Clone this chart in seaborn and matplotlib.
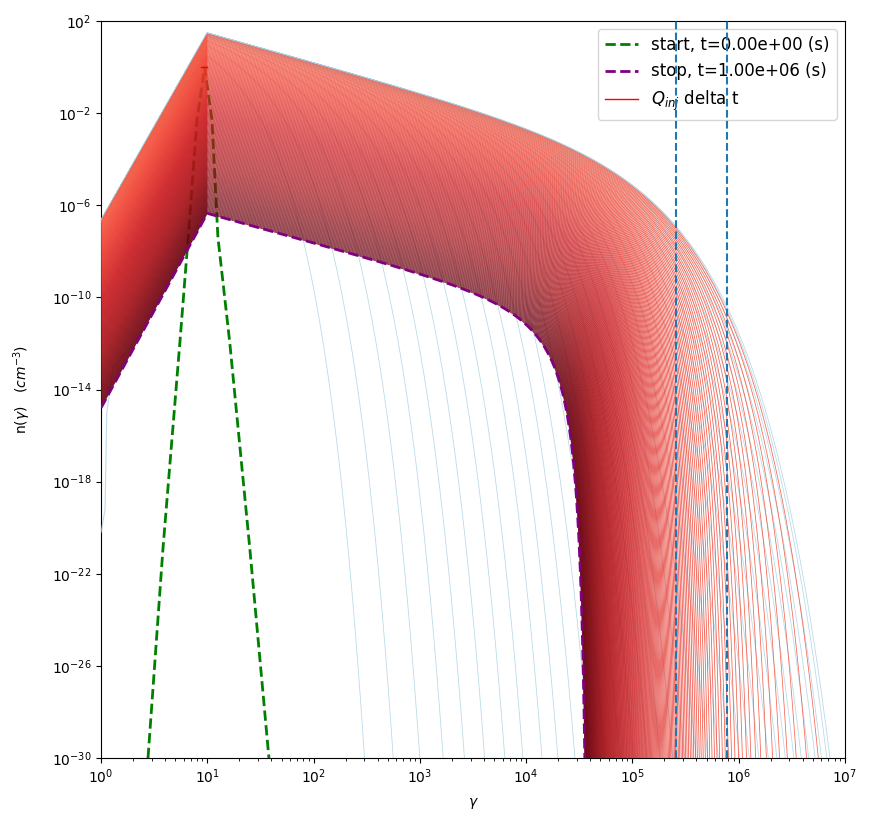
import numpy as np
import pandas as pd
import matplotlib
matplotlib.use("Agg")
import matplotlib.pyplot as plt
import seaborn as sns

# start distribution (green dashed), read as log10 points
start_lg_gamma = [0.442, 0.583, 0.743, 0.82, 0.903, 0.975, 1.044, 1.10, 1.21, 1.40, 1.58]
start_lg_n = [-30.0, -20.9, -11.9, -7.4, -2.3, 0.0, -2.3, -7.4, -11.9, -20.9, -30.0]

# Q_inj delta t (short red mark at the injection energy)
qinj_gamma = [8.7, 10.0]
qinj_n = [1.0, 1.0]

# vertical dashed markers
marker_gamma = [2.57e5, 7.7e5]

peak_gamma = 10.0
peak_lg_first, peak_lg_last = 1.48, -6.35
low_slope_first, low_slope_last = 8.13, 8.45
high_slope = -1.28
cut_first, cut_last = 1.5e4, 5.8e3
beta_first, beta_last = 0.65, 1.0
wall_last = 4.15e4
wall_power = 1.3
n_cool = 200

# acceleration phase: log10(gamma) where each blue curve hits 1e-30
accel_lg_bottom = [2.48, 2.75, 3.00, 3.22, 3.42, 3.61, 3.80, 3.97, 4.15, 4.30,
                   4.46, 4.60, 4.74, 4.88, 5.01, 5.14, 5.26, 5.38, 5.49, 5.60,
                   5.71, 5.81, 5.91, 6.01, 6.10, 6.19, 6.28, 6.36, 6.44, 6.52,
                   6.59, 6.66, 6.72, 6.78, 6.83, 6.86]

# low-energy tail of one early sample, visible under the stop curve near gamma=1
tail_lg_gamma = [0.254, 0.113, 0.054, 0.038, 0.0]
tail_lg_n = [-12.3, -13.0, -15.0, -19.2, -20.2]

lg_g = np.linspace(0, 7, 3000)
g = 10 ** lg_g


def lg_distr(lg_peak, s_low, cut, beta, wall=None):
    y = np.where(g < peak_gamma, lg_peak + s_low * (lg_g - 1), lg_peak + high_slope * (lg_g - 1))
    z = (g / cut) ** beta
    if wall is not None:
        frac = 1 - g / wall
        z = np.where(frac > 1e-6, z / np.clip(frac, 1e-6, None), 1e6)
    return np.clip(y - z / np.log(10), -36, None)


fig, ax = plt.subplots(figsize=(8.71, 8.25), dpi=100)
fig.subplots_adjust(left=0.116, right=0.970, top=0.9745, bottom=0.0812)

sns.lineplot(x=10 ** np.array(start_lg_gamma), y=10 ** np.array(start_lg_n), ax=ax,
             color="green", lw=2, ls="--", label="start, t=0.00e+00 (s)", sort=False, zorder=2)

# acceleration phase
n_acc = len(accel_lg_bottom)
for k, lb in enumerate(accel_lg_bottom):
    b = 1.0 + (beta_first - 1.0) * k / (n_acc - 1)
    top_at = peak_lg_first + high_slope * (lb - 1)
    cut = 10 ** lb / (np.log(10) * (top_at + 30)) ** (1 / b)
    ax.plot(g, 10 ** lg_distr(peak_lg_first, low_slope_first, cut, b), color="#a6cee3",
            lw=0.6, alpha=0.75, zorder=3)
ax.plot(10 ** np.array(tail_lg_gamma), 10 ** np.array(tail_lg_n), color="#a6cee3",
        lw=0.8, alpha=0.75, zorder=3)

# cooling phase
cmap = plt.cm.Reds
for i in range(1, n_cool + 1):
    f = i / n_cool
    lp = peak_lg_first + f * (peak_lg_last - peak_lg_first)
    sl = low_slope_first + f * (low_slope_last - low_slope_first)
    cut = 10 ** (np.log10(cut_first) + f * (np.log10(cut_last) - np.log10(cut_first)))
    b = beta_first + f * (beta_last - beta_first)
    ax.plot(g, 10 ** lg_distr(lp, sl, cut, b, wall_last / f ** wall_power),
            color=cmap(0.55 + 0.45 * f), lw=0.55, alpha=0.9, zorder=4)

stop = pd.DataFrame({"g": g, "n": 10 ** lg_distr(peak_lg_last, low_slope_last, cut_last, beta_last, wall_last)})
sns.lineplot(data=stop, x="g", y="n", ax=ax, color="purple", lw=2, ls="--",
             label="stop, t=1.00e+06 (s)", zorder=6)
sns.lineplot(x=qinj_gamma, y=qinj_n, ax=ax, color="red", lw=1, label="$Q_{inj}$ delta t", zorder=7)

for xv in marker_gamma:
    ax.axvline(xv, color="C0", ls="--", lw=1.5, zorder=8)

ax.set_xscale("log")
ax.set_yscale("log")
ax.set_xlim(1, 1e7)
ax.set_ylim(1e-30, 1e2)
ax.set_xlabel(r"$\gamma$", labelpad=7)
ax.set_ylabel(r"n($\gamma$)   ($cm^{-3}$)")
ax.yaxis.set_label_coords(-0.092, 0.5)
ax.legend(loc="upper right", fontsize=12)

fig.savefig("out.png", dpi=100)
